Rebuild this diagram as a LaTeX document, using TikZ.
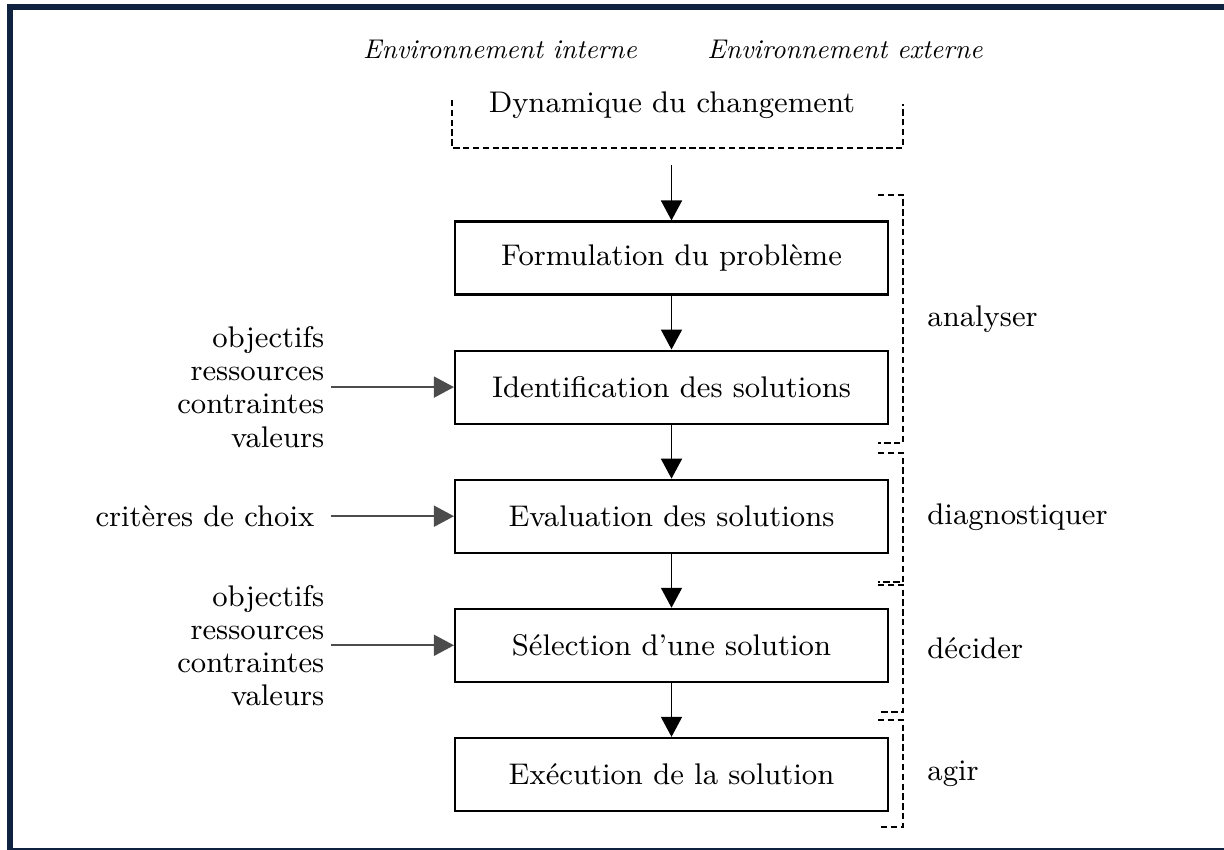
\documentclass[tikz,border=0pt]{standalone}
\usepackage{fontspec}
\usepackage{tikz}
\usetikzlibrary{positioning}
\usetikzlibrary{calc}
\usetikzlibrary{arrows.meta}

\definecolor{cadre}{HTML}{0F2340}
\newcommand{\texte}{\fontsize{8.5}{9.4}\selectfont}

\begin{document}
\begin{tikzpicture}[
    etape/.style={draw, line width=0.6pt, minimum width=4.33cm, minimum height=0.73cm, font=\texte},
    fleche/.style={-{Triangle[length=0.2cm, width=0.21cm]}, line width=0.5pt},
    entree/.style={fleche, black!70},
    liste/.style={align=right, font=\texte, inner sep=0.04cm},
    phase/.style={anchor=west, font=\texte},
    milieu/.style={font=\fontsize{10}{12}\selectfont\itshape, scale=0.77, transform shape},
    crochet/.style={line width=0.4pt, dash pattern=on 1.8pt off 1pt},
    node distance=0.54cm
]

    \useasboundingbox (0,0) rectangle (12.24,8.5);

    % cadre
    \fill[cadre] (0.07,8.40) rectangle (12.24,8.46);
    \fill[cadre] (0.07,0) rectangle (0.13,8.46);
    \fill[cadre] (0.07,0) rectangle (12.24,0.02);

    \node[milieu] (interne) at (5.00,8.01) {Environnement interne};
    \node[milieu] (externe) at (8.45,8.01) {Environnement externe};

    \node[font=\texte] (dynamique) at (6.72,7.45) {Dynamique du changement};
    \draw[crochet] (4.52,7.50) |- (9.03,7.02) -- (9.03,7.46);
    \coordinate (dyn-bas) at (6.715,6.85);

    \node[etape] (formulation) at (6.715,5.92) {Formulation du problème};
    \node[etape, below=of formulation] (identification) {Identification des solutions};
    \node[etape, below=of identification] (evaluation) {Evaluation des solutions};
    \node[etape, below=of evaluation] (selection) {Sélection d’une solution};
    \node[etape, below=of selection] (execution) {Exécution de la solution};

    \draw[fleche] (dyn-bas) -- (formulation.north);
    \draw[fleche] (formulation) -- (identification);
    \draw[fleche] (identification) -- (evaluation);
    \draw[fleche] (evaluation) -- (selection);
    \draw[fleche] (selection) -- (execution);

    % entrees
    \coordinate[left=1.23cm of identification.west] (in-ident);
    \coordinate[left=1.23cm of evaluation.west] (in-eval);
    \coordinate[left=1.23cm of selection.west] (in-select);

    \draw[entree] (in-ident) -- (identification.west);
    \draw[entree] (in-eval) -- (evaluation.west);
    \draw[entree] (in-select) -- (selection.west);

    \node[liste, left=0.02cm of in-ident] (moyens1) {objectifs\\ressources\\contraintes\\valeurs};
    \node[liste, left=0.12cm of in-eval] (criteres) {critères de choix};
    \node[liste, left=0.02cm of in-select] (moyens2) {objectifs\\ressources\\contraintes\\valeurs};

    % phases
    \foreach \haut/\bas/\nom [count=\i] in {6.55/4.07/analyser, 3.97/2.68/diagnostiquer, 2.65/1.38/décider, 1.30/0.23/agir} {
        \draw[crochet] (8.78,\haut) -| (9.03,\bas) -- (8.78,\bas);
        \node[phase] (phase-\i) at (9.15,{(\haut+\bas)/2}) {\nom};
    }

\end{tikzpicture}
\end{document}
